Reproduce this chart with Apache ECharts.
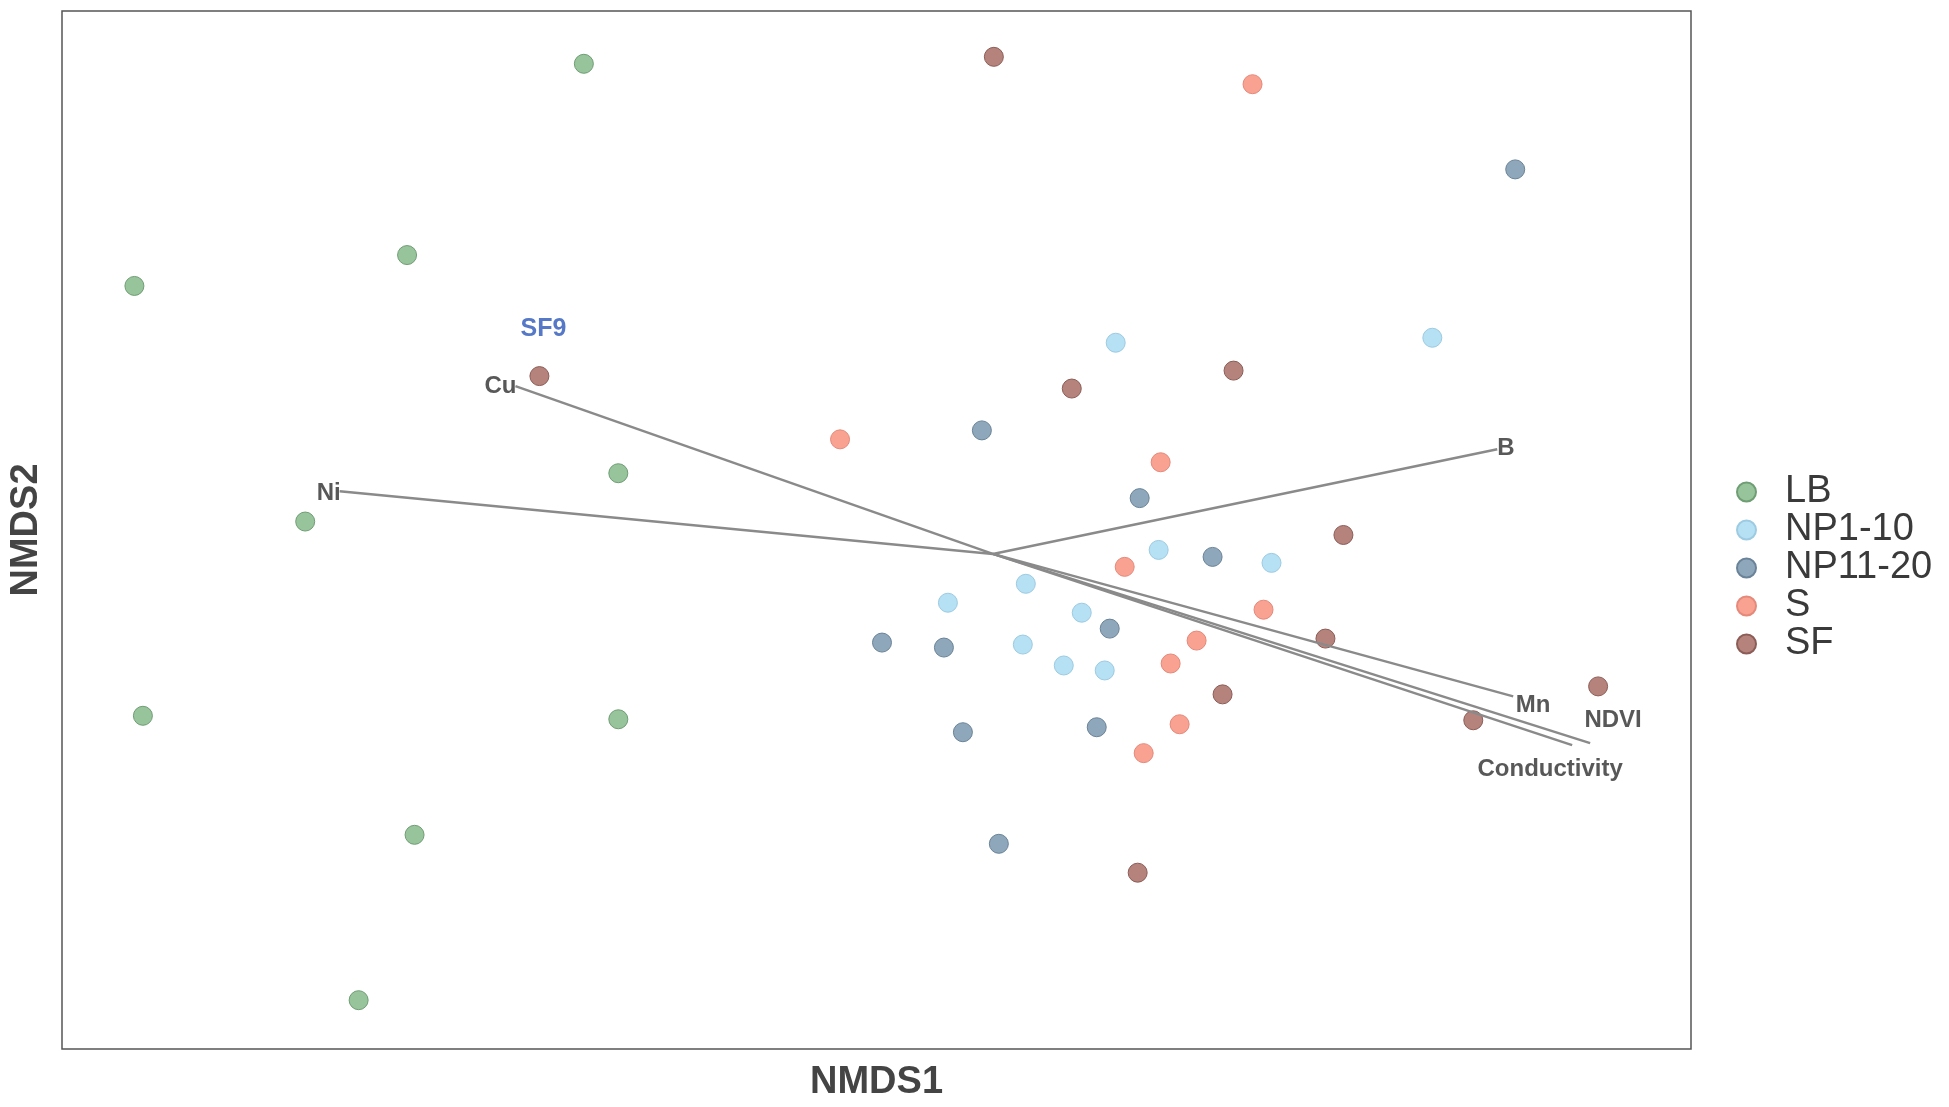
<!DOCTYPE html>
<html>
<head>
<meta charset="utf-8">
<title>NMDS</title>
<script src="https://cdn.jsdelivr.net/npm/echarts@6/dist/echarts.min.js"></script>
<style>
  html, body { margin: 0; padding: 0; background: #fff; }
  #main { width: 1949px; height: 1107px; }
</style>
</head>
<body>
<div id="main"></div>
<script>
// site scores, [NMDS1, NMDS2]
var lbPoints = [
  [-0.819, 0.984], [-1.173, 0.600], [-1.719, 0.538], [-0.750, 0.162], [-1.377, 0.065],
  [-1.702, -0.325], [-0.750, -0.332], [-1.158, -0.564], [-1.270, -0.896]
];
var np110Points = [
  [0.246, 0.424], [0.880, 0.434], [0.332, 0.008], [0.558, -0.018], [0.066, -0.060],
  [-0.090, -0.098], [0.178, -0.118], [0.060, -0.182], [0.142, -0.224], [0.224, -0.234]
];
var np1120Points = [
  [1.046, 0.772], [-0.022, 0.248], [0.294, 0.112], [0.440, -0.006], [0.234, -0.150],
  [-0.222, -0.178], [-0.098, -0.188], [-0.060, -0.358], [0.208, -0.348], [0.012, -0.582]
];
var sPoints = [
  [0.520, 0.943], [-0.306, 0.230], [0.336, 0.184], [0.264, -0.026], [0.542, -0.112],
  [0.408, -0.174], [0.356, -0.220], [0.374, -0.342], [0.302, -0.400]
];
var sfPoints = [
  [0.002, 0.998], [0.482, 0.368], [0.158, 0.332], [-0.908, 0.357], [0.702, 0.038],
  [0.666, -0.170], [0.460, -0.282], [1.212, -0.266], [0.962, -0.334], [0.290, -0.640]
];

// environmental vectors (arrow tips) and where their labels sit
var vectorNames = ["Cu", "Ni", "B", "Mn", "NDVI", "Conductivity"];
var vectorEnds = [
  [-0.956, 0.337], [-1.308, 0.126], [1.010, 0.210], [1.042, -0.286], [1.196, -0.380], [1.160, -0.384]
];
var vectorLabelAt = [
  [-0.954, 0.336], [-1.306, 0.122], [1.010, 0.212], [1.082, -0.304], [1.242, -0.334], [1.116, -0.432]
];
var highlightName = "SF9";
var highlightLabelAt = [-0.900, 0.452];

var groups = ["LB", "NP1-10", "NP11-20", "S", "SF"];
var groupData = [lbPoints, np110Points, np1120Points, sPoints, sfPoints];
var fills = ["#97c49b", "#b6e0f3", "#8fa7ba", "#f9a292", "#b5837b"];
var borders = ["#6f9d74", "#9ccbe2", "#6a8398", "#e5897a", "#8c5d57"];

var font = "'Liberation Sans', Arial, sans-serif";

var series = groups.map(function(g, i) {
  return {
    name: g,
    type: "scatter",
    symbol: "circle",
    symbolSize: 19,
    data: groupData[i],
    itemStyle: { color: fills[i], borderColor: borders[i], borderWidth: 1, opacity: 1 },
    z: 2
  };
});

series.push({
  name: "vectors",
  type: "lines",
  coordinateSystem: "cartesian2d",
  silent: true,
  z: 3,
  lineStyle: { color: "#8a8a8a", width: 2.5, opacity: 1 },
  data: vectorEnds.map(function(e) {
    return { coords: [[0, 0], e] };
  })
});

var labelAligns = ["right", "right", "left", "center", "center", "center"];
series.push({
  name: "vectorLabels",
  type: "scatter",
  symbolSize: 0,
  silent: true,
  z: 4,
  data: vectorNames.map(function(n, i) {
    return {
      name: n,
      value: vectorLabelAt[i],
      label: { align: labelAligns[i] }
    };
  }),
  label: {
    show: true,
    position: "inside",
    formatter: "{b}",
    color: "#2e2e2e",
    fontFamily: font,
    fontWeight: "bold",
    fontSize: 24
  }
});

series.push({
  name: "highlight",
  type: "scatter",
  symbolSize: 0,
  silent: true,
  z: 4,
  data: [{ name: highlightName, value: highlightLabelAt }],
  label: {
    show: true,
    position: "inside",
    formatter: "{b}",
    color: "#2a58b8",
    fontFamily: font,
    fontWeight: "bold",
    fontSize: 25
  }
});

var myChart = echarts.init(document.getElementById("main"));
var option = {
  animation: false,
  backgroundColor: "#ffffff",
  grid: {
    left: 60,
    top: 11,
    width: 1631,
    height: 1042,
    show: true,
    borderColor: "#555555",
    borderWidth: 1.5,
    backgroundColor: "#ffffff"
  },
  legend: {
    data: groups,
    orient: "vertical",
    left: 1731,
    top: 468,
    itemWidth: 19,
    itemHeight: 19,
    itemGap: 0,
    icon: "circle",
    textStyle: {
      fontFamily: font,
      fontSize: 38,
      lineHeight: 38,
      color: "#3a3a3a",
      padding: [0, 0, 0, 24]
    }
  },
  xAxis: {
    type: "value",
    min: -1.864,
    max: 1.398,
    name: "NMDS1",
    nameLocation: "middle",
    nameGap: 15,
    nameTextStyle: {
      fontFamily: font,
      fontWeight: "bold",
      fontSize: 38,
      color: "#444444",
      verticalAlign: "top"
    },
    axisLine: { show: false },
    axisTick: { show: false },
    axisLabel: { show: false },
    splitLine: { show: false }
  },
  yAxis: {
    type: "value",
    min: -0.994,
    max: 1.09,
    name: "NMDS2",
    nameLocation: "middle",
    nameGap: 16,
    nameTextStyle: {
      fontFamily: font,
      fontWeight: "bold",
      fontSize: 38,
      color: "#444444"
    },
    axisLine: { show: false },
    axisTick: { show: false },
    axisLabel: { show: false },
    splitLine: { show: false }
  },
  series: series
};
myChart.setOption(option);
</script>
</body>
</html>
